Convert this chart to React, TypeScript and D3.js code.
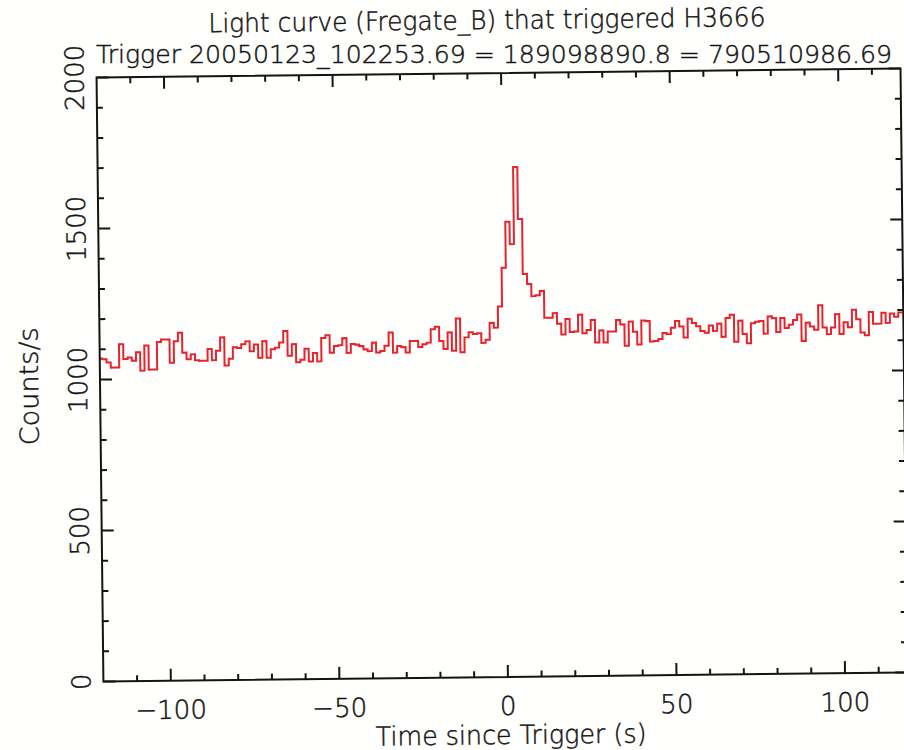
import React from 'react';
import * as d3 from 'd3';

const TITLE = 'Light curve (Fregate_B) that triggered H3666';
const SUBTITLE = 'Trigger 20050123_102253.69 = 189098890.8 = 790510986.69';
const X_LABEL = 'Time since Trigger (s)';
const Y_LABEL = 'Counts/s';

// histogram bins: start time and width (s); first bin is partly outside the frame
const binStart = -120.5;
const binWidth = 1.25;

// counts/s, consecutive bins
const countsSeg1 = [
  1070, 1067, 1056, 1039, 1039, 1116, 1067, 1072, 1061, 1089, 1028, 1111, 1031, 1031, 1122, 1130,
  1130, 1053, 1124, 1152, 1086, 1064, 1080, 1060, 1058, 1058, 1097, 1060, 1091, 1135, 1042, 1064,
  1102, 1099, 1112, 1121, 1088, 1110, 1066, 1121, 1066, 1094, 1099, 1116, 1154, 1072, 1110, 1050,
];
const countsSeg2 = [
  1058, 1094, 1052, 1080, 1052, 1129, 1138, 1080, 1102, 1105, 1128, 1079, 1108, 1106, 1101, 1090,
  1084, 1112, 1079, 1084, 1101, 1145, 1078, 1100, 1096, 1078, 1116, 1116, 1096, 1105, 1110, 1154,
  1162, 1115, 1088, 1143, 1082, 1189, 1077, 1126, 1143, 1137, 1139, 1107, 1117, 1173, 1157, 1227,
];
const countsBurst = [
  1355, 1507, 1433, 1688, 1516, 1334, 1300, 1260, 1263, 1277, 1188, 1188, 1203, 1168, 1132, 1183,
  1140, 1141,
];
const countsSeg3 = [
  1197, 1135, 1146, 1179, 1104, 1144, 1104, 1140, 1140, 1178, 1163, 1092, 1172, 1138, 1096, 1175,
  1173, 1105, 1107, 1113, 1133, 1129, 1150, 1172, 1154, 1117, 1179, 1165, 1154,
];
const countsSeg4 = [
  1138, 1132, 1156, 1138, 1162, 1118, 1180, 1191, 1101, 1171, 1127, 1096, 1162, 1167, 1169, 1127,
  1184, 1178, 1132, 1178, 1145, 1156, 1171, 1189, 1101, 1162, 1149, 1138, 1219, 1145, 1123, 1145,
  1189, 1123, 1162, 1145, 1203, 1171, 1127, 1118, 1195, 1156, 1156, 1192, 1158, 1189, 1178, 1192,
];

const xMajorTicks = [-100, -50, 0, 50, 100];
const xTickLabels = ['\u2212100', '\u221250', '0', '50', '100'];
const yMajorTicks = [0, 500, 1000, 1500, 2000];
const yTickLabels = ['0', '500', '1000', '1500', '2000'];

const W = 904;
const H = 750;
const FONT = "'DejaVu Sans', 'Liberation Sans', sans-serif";
const RED = '#e8232b';
const INK = '#141414';

export default function App() {
  const counts = [...countsSeg1, ...countsSeg2, ...countsBurst, ...countsSeg3, ...countsSeg4];
  const left = 100, right = 904, top = 73, bottom = 677;
  const x = d3.scaleLinear().domain([-120, 118.5]).range([left, right]);
  const y = d3.scaleLinear().domain([0, 2000]).range([bottom, top]);

  const pts: [number, number][] = counts.map((c, i) => [binStart + i * binWidth, c]);
  pts.push([binStart + counts.length * binWidth, counts[counts.length - 1]]);
  const line = d3
    .line<[number, number]>()
    .x((d) => x(d[0]))
    .y((d) => y(d[1]))
    .curve(d3.curveStepAfter);

  const xMinor = d3.range(-110, 118, 10).filter((v) => v % 50 !== 0);
  const yMinor = d3.range(100, 2000, 100).filter((v) => v % 500 !== 0);
  const majLen = 12, minLen = 6;
  const textStyle = { stroke: INK, strokeWidth: 0.45 };

  return (
    <svg
      width={W}
      height={H}
      style={{ position: 'absolute', left: 0, top: 0, background: '#fffffd' }}
      fontFamily={FONT}
      fontWeight={200}
    >
      <rect x={0} y={0} width={W} height={H} fill="#fffffd" />
      <defs>
        <clipPath id="plotclip">
          <rect x={left} y={top} width={right - left} height={bottom - top} />
        </clipPath>
      </defs>
      <g transform="rotate(-0.65, 502, 378)">
        <path d={line(pts) || ''} fill="none" stroke={RED} strokeWidth={2} clipPath="url(#plotclip)" />
        <rect x={left} y={top} width={right - left} height={bottom - top} fill="none" stroke={INK} strokeWidth={2} />
        {xMajorTicks.map((v) => (
          <g key={'xm' + v}>
            <line x1={x(v)} x2={x(v)} y1={bottom} y2={bottom - majLen} stroke={INK} strokeWidth={2} />
            <line x1={x(v)} x2={x(v)} y1={top} y2={top + majLen} stroke={INK} strokeWidth={2} />
          </g>
        ))}
        {xMinor.map((v) => (
          <g key={'xn' + v}>
            <line x1={x(v)} x2={x(v)} y1={bottom} y2={bottom - minLen} stroke={INK} strokeWidth={2} />
            <line x1={x(v)} x2={x(v)} y1={top} y2={top + minLen} stroke={INK} strokeWidth={2} />
          </g>
        ))}
        {yMajorTicks.map((v) => (
          <g key={'ym' + v}>
            <line x1={left} x2={left + majLen} y1={y(v)} y2={y(v)} stroke={INK} strokeWidth={2} />
            <line x1={right} x2={right - majLen} y1={y(v)} y2={y(v)} stroke={INK} strokeWidth={2} />
          </g>
        ))}
        {yMinor.map((v) => (
          <g key={'yn' + v}>
            <line x1={left} x2={left + minLen} y1={y(v)} y2={y(v)} stroke={INK} strokeWidth={2} />
            <line x1={right} x2={right - minLen} y1={y(v)} y2={y(v)} stroke={INK} strokeWidth={2} />
          </g>
        ))}
        {xMajorTicks.map((v, i) => (
          <text key={'xl' + v} x={x(v)} y={715} textAnchor="middle" fontSize={26} fill={INK} style={textStyle}>
            {xTickLabels[i]}
          </text>
        ))}
        {yMajorTicks.map((v, i) => (
          <text
            key={'yl' + v}
            transform={`translate(87, ${y(v)}) rotate(-90)`}
            textAnchor="middle"
            fontSize={26}
            fill={INK}
            style={textStyle}
          >
            {yTickLabels[i]}
          </text>
        ))}
        <text x={507} y={744} textAnchor="middle" fontSize={26} fill={INK} style={textStyle} textLength={271} lengthAdjust="spacingAndGlyphs">
          {X_LABEL}
        </text>
        <text
          transform="translate(38, 381) rotate(-90)"
          textAnchor="middle"
          fontSize={26}
          fill={INK}
          style={textStyle}
          textLength={118}
          lengthAdjust="spacingAndGlyphs"
        >
          {Y_LABEL}
        </text>
        <text x={491} y={29} textAnchor="middle" fontSize={26} fill={INK} style={textStyle} textLength={557} lengthAdjust="spacingAndGlyphs">
          {TITLE}
        </text>
      </g>
      <text x={96} y={63} textAnchor="start" fontSize={24.5} fill={INK} style={textStyle} textLength={796} lengthAdjust="spacingAndGlyphs">
        {SUBTITLE}
      </text>
    </svg>
  );
}
